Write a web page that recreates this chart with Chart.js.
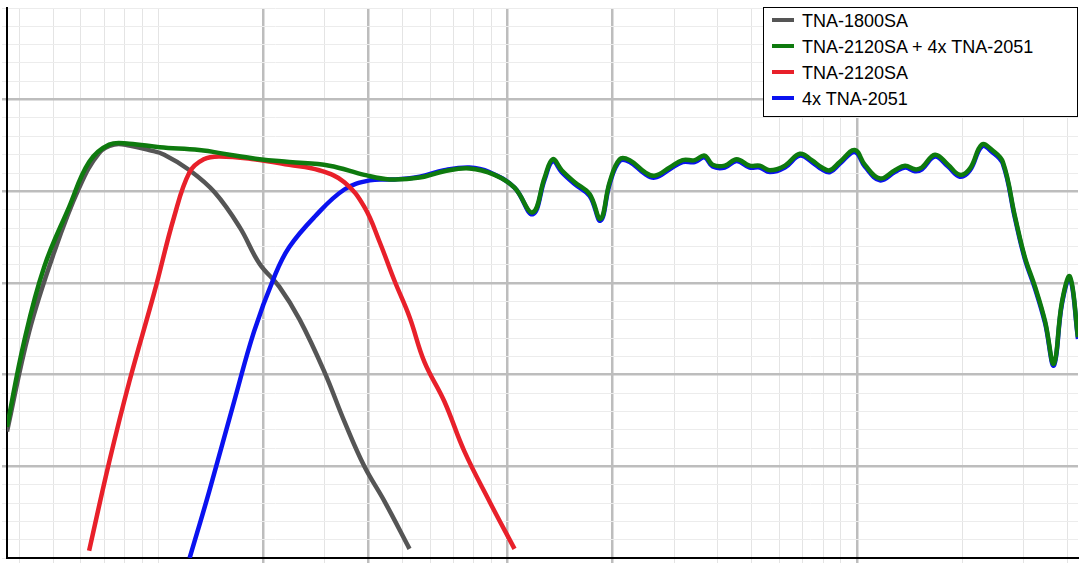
<!DOCTYPE html>
<html>
<head>
<meta charset="utf-8">
<script src="https://cdn.jsdelivr.net/npm/chart.js@4/dist/chart.umd.min.js"></script>
<style>
  body { margin: 0; background: #fff; font-family: "Liberation Sans", Arial, sans-serif; }
  #wrap { position: relative; width: 1086px; height: 565px; }
  #legend { position: absolute; left: 763px; top: 7px; width: 313px; height: 108px; border: 1.5px solid #000; background: #fff; }
  .row { position: absolute; left: 8px; font-size: 18px; color: #000; white-space: nowrap; }
  .sw { display: inline-block; width: 22px; height: 4px; vertical-align: middle; margin-right: 8px; position: relative; top: -2px; }
</style>
</head>
<body>
<div id="wrap">
  <canvas id="fr" width="1086" height="565"></canvas>
  <div id="legend"></div>
</div>
<script>
// frequency response, Hz / dB
const gray_f = [36.9, 42.7, 50.4, 59.4, 67.8, 74.8, 82.6, 94.2, 104, 123, 145, 171, 195, 222, 254, 299, 341, 389, 444, 524];
const gray_db = [13.8, 24.7, 33.4, 40.4, 44.2, 45.1, 45.0, 44.5, 44.0, 42.3, 39.9, 36.1, 32.1, 29.6, 26.0, 20.3, 14.9, 10.0, 6.2, 1.0];

const red_f = [63.4, 72.4, 82.6, 97.5, 111, 123, 135, 150, 188, 237, 289, 341, 389, 430, 474, 524, 578, 659, 753, 887, 1047];
const red_db = [0.8, 10.5, 19.2, 29.0, 37.2, 42.1, 43.5, 43.8, 43.5, 42.9, 42.3, 41.0, 38.3, 34.5, 30.3, 26.3, 21.4, 17.1, 11.6, 6.2, 1.0];

const green_f = [36.9, 41.3, 47.1, 55.6, 63.4, 72.4, 82.6, 101, 131, 160, 195, 237, 309, 389, 459, 560, 659, 778, 918, 1047,
  1180, 1277, 1346, 1429, 1556, 1718, 1846, 1960, 2094, 2237, 2472, 2636, 2912, 3170, 3435, 3664, 3864, 4188, 4529, 4932,
  5272, 5636, 6223, 6871, 7430, 7943, 8375, 8933, 9863, 10540, 11640, 12850, 13740, 14660, 15350, 16740, 18240, 19720,
  21090, 22800, 24380, 26180, 28380, 30270, 32360, 34590, 36640, 38640, 40740, 42960];
const green_db = [14.3, 23.6, 31.7, 38.3, 43.2, 45.1, 45.2, 44.8, 44.5, 44.0, 43.5, 43.2, 42.8, 41.8, 41.3, 41.5, 42.2, 42.5, 41.8, 40.4,
  37.7, 41.5, 43.5, 42.3, 41.0, 39.7, 37.0, 41.0, 43.5, 43.4, 42.1, 41.7, 42.6, 43.4, 43.4, 43.9, 42.9, 42.8, 43.5, 42.8,
  42.8, 42.3, 42.8, 44.1, 43.4, 42.6, 42.3, 43.2, 44.5, 42.9, 41.4, 42.3, 42.8, 42.4, 42.6, 44.0, 42.9, 41.8,
  42.5, 45.1, 44.5, 43.2, 37.2, 32.8, 29.6, 25.8, 21.2, 27.9, 30.7, 24.1];

const blue_f = [123, 140, 165, 188, 215, 237, 280, 341, 403, 474, 560, 659, 778, 887, 1047];
const blue_db = [0, 7.3, 17.1, 24.7, 30.7, 33.9, 37.2, 40.2, 41.2, 41.3, 41.6, 42.3, 42.6, 42.1, 40.4];

const majorX = [200, 400, 1000, 2000, 10000];
const minorX = [40, 50, 60, 70, 80, 90, 100, 300, 500, 600, 700, 800, 900, 3000, 4000, 5000, 6000, 7000, 8000, 9000, 20000, 30000, 40000];
const yMajor = [10, 20, 30, 40, 50];

function pts(f, db) { return f.map((x, i) => ({ x: x, y: db[i] })); }

// the 4x TNA-2051 curve joins the combined curve above 1 kHz
const tailStart = green_f.indexOf(1180);
const blueAll = pts(blue_f, blue_db).concat(pts(green_f.slice(tailStart), green_db.slice(tailStart).map(v => v - 0.2)));

const series = [
  { label: "TNA-1800SA", color: "#555555", data: pts(gray_f, gray_db), order: 3 },
  { label: "TNA-2120SA + 4x TNA-2051", color: "#0e7a0e", data: pts(green_f, green_db), order: 0 },
  { label: "TNA-2120SA", color: "#e8202a", data: pts(red_f, red_db), order: 1 },
  { label: "4x TNA-2051", color: "#0a12f0", data: blueAll, order: 2 }
];

const legend = document.getElementById("legend");
series.forEach((s, i) => {
  legend.innerHTML += `<div class="row" style="top:${3 + i * 26}px"><span class="sw" style="background:${s.color}"></span>${s.label}</div>`;
});

new Chart(document.getElementById("fr"), {
  type: "line",
  data: {
    datasets: series.map(s => ({
      label: s.label,
      data: s.data,
      borderColor: s.color,
      borderWidth: 4.5,
      pointRadius: 0,
      tension: 0.4,
      fill: false,
      order: s.order
    }))
  },
  options: {
    responsive: false,
    animation: false,
    layout: { padding: { left: 2, right: 8, top: 8, bottom: 2 } },
    plugins: { legend: { display: false }, tooltip: { enabled: false } },
    scales: {
      x: {
        type: "logarithmic",
        min: 36.9,
        max: 42960,
        afterBuildTicks: axis => {
          axis.ticks = majorX.concat(minorX).sort((a, b) => a - b).map(v => ({ value: v }));
        },
        ticks: { display: false },
        grid: {
          color: ctx => majorX.includes(ctx.tick.value) ? "#bdbdbd" : "#e4e4e4",
          lineWidth: ctx => majorX.includes(ctx.tick.value) ? 2.5 : 1,
          tickLength: 5
        },
        border: { color: "#000", width: 2 }
      },
      y: {
        min: 0,
        max: 60,
        afterBuildTicks: axis => {
          let t = [];
          for (let v = 0; v <= 60; v += 2) t.push({ value: v });
          axis.ticks = t;
        },
        ticks: { display: false },
        grid: {
          color: ctx => yMajor.includes(ctx.tick.value) ? "#bdbdbd" : "#ececec",
          lineWidth: ctx => yMajor.includes(ctx.tick.value) ? 2.5 : 1,
          tickLength: 5
        },
        border: { color: "#000", width: 2 }
      }
    }
  }
});
</script>
</body>
</html>
